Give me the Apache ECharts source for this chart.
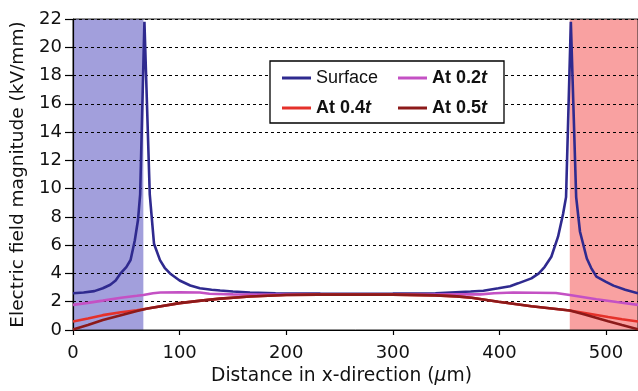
<!DOCTYPE html>
<html>
<head>
<meta charset="utf-8">
<script src="https://cdn.jsdelivr.net/npm/echarts@6/dist/echarts.min.js"></script>
<style>
  html, body { margin: 0; padding: 0; background: #fff; }
  #chart { width: 638px; height: 391px; }
</style>
</head>
<body>
<div id="chart"></div>
<script>
// electric field along x: [x (um), E (kV/mm)]
const surface = [
  [0, 2.6], [10, 2.65], [20, 2.75], [28, 2.95], [35, 3.2], [40, 3.5], [44, 3.95], [50, 4.45], [54, 4.95],
  [58, 6.35], [61, 7.8], [63, 9.6], [67, 21.8], [72, 9.6], [76, 6.1], [81.6, 4.94], [86, 4.4], [91, 4.0],
  [100, 3.5], [110, 3.15], [119, 2.95], [130, 2.85], [138, 2.79], [150, 2.72], [166, 2.65], [190, 2.6],
  [232, 2.57], [266, 2.56], [300, 2.57], [340, 2.6], [373, 2.72], [385, 2.78], [399, 2.95], [410, 3.1],
  [417.5, 3.3], [430, 3.65], [437, 4.0], [442.5, 4.47], [448.7, 5.18], [455, 6.6], [459.7, 8.2], [462.5, 9.4],
  [467, 21.8], [472, 9.4], [475.6, 6.95], [482, 5.06], [486, 4.4], [491, 3.77], [500, 3.4], [507, 3.14],
  [518, 2.85], [530, 2.6]
];
const at02 = [
  [0, 1.78], [14, 1.92], [28, 2.08], [45, 2.28], [60, 2.42], [66, 2.48], [75, 2.6], [82, 2.65], [100, 2.66],
  [119, 2.65], [128, 2.56], [150, 2.52], [200, 2.5], [266, 2.5], [330, 2.5], [360, 2.52], [382, 2.52],
  [395, 2.6], [413, 2.65], [453, 2.62], [466, 2.48], [491, 2.18], [510, 1.98], [530, 1.78]
];
const at04 = [
  [0, 0.6], [14, 0.82], [28, 1.05], [45, 1.25], [60, 1.4], [70, 1.52], [100, 1.9], [120, 2.08], [138, 2.22],
  [166, 2.37], [200, 2.48], [230, 2.5], [300, 2.5], [340, 2.45], [360, 2.38], [374, 2.28], [399, 2.0],
  [430, 1.68], [466, 1.38], [480, 1.2], [502, 0.92], [515, 0.76], [530, 0.6]
];
const at05 = [
  [0, 0.03], [14, 0.35], [28, 0.7], [45, 1.05], [60, 1.35], [70, 1.52], [100, 1.9], [120, 2.08], [138, 2.22],
  [166, 2.37], [200, 2.48], [230, 2.5], [300, 2.5], [340, 2.45], [360, 2.38], [374, 2.28], [399, 2.0],
  [430, 1.68], [466, 1.38], [480, 1.1], [502, 0.62], [515, 0.35], [530, 0.05]
];
// electrode regions (um)
const leftElectrode = [0, 66];
const rightElectrode = [466, 530];

const xTicks = { min: 0, max: 530, step: 100 };
const yTicks = { min: 0, max: 22, step: 2 };

const colors = {
  surface: "#2f2a8f",
  at02: "#c451c4",
  at04: "#e5312a",
  at05: "#8c1a1a",
  leftBand: "#a29fdc",
  rightBand: "#f9a1a1",
  ink: "#111111"
};

const axisFont = "'DejaVu Sans', sans-serif";
const legendFont = "'Liberation Sans', Arial, sans-serif";

const lineSeries = (name, data, color) => ({
  name,
  type: "line",
  data,
  symbol: "none",
  z: 3,
  lineStyle: { color, width: 2.6 },
  itemStyle: { color }
});

const legendRich = {
  n: { fontFamily: legendFont, fontSize: 18, color: colors.ink },
  b: { fontFamily: legendFont, fontSize: 18, fontWeight: "bold", color: colors.ink },
  i: { fontFamily: legendFont, fontSize: 18, fontWeight: "bold", fontStyle: "italic", color: colors.ink }
};
const legendLabel = name => {
  if (name === "Surface") return "{n|Surface}";
  const m = name.match(/^(.*)t$/);
  return `{b|${m[1]}}{i|t}`;
};
const legendAt = (name, left, top) => ({
  data: [name],
  left,
  top,
  padding: 0,
  icon: "rect",
  itemWidth: 29,
  itemHeight: 3,
  itemGap: 0,
  z: 6,
  selectedMode: false,
  formatter: legendLabel,
  textStyle: { rich: legendRich, padding: [0, 0, 0, 0] }
});

const chart = echarts.init(document.getElementById("chart"), null, { renderer: "canvas" });
chart.setOption({
  animation: false,
  grid: { left: 73, right: 0, top: 19, bottom: 59, show: true, borderColor: "#222", borderWidth: 1, z: 2 },
  graphic: [
    {
      type: "rect",
      z: 5,
      shape: { x: 270, y: 61, width: 234, height: 62 },
      style: { fill: "#fff", stroke: "#000", lineWidth: 1.3 }
    }
  ],
  legend: [
    legendAt("Surface", 282, 69),
    legendAt("At 0.2t", 398, 69),
    legendAt("At 0.4t", 282, 99),
    legendAt("At 0.5t", 398, 99)
  ],
  xAxis: {
    type: "value",
    min: xTicks.min,
    max: xTicks.max,
    interval: xTicks.step,
    z: 2,
    name: "{a|Distance in x-direction (}{m|μ}{a|m)}",
    nameLocation: "middle",
    nameGap: 37,
    nameTextStyle: {
      padding: [0, 28, 0, 0],
      rich: {
        a: { fontFamily: axisFont, fontSize: 18.7, color: colors.ink },
        m: { fontFamily: axisFont, fontSize: 18.7, fontStyle: "italic", color: colors.ink }
      }
    },
    axisLine: { show: true, lineStyle: { color: "#000", width: 1.2 } },
    axisTick: { show: true, length: 5, lineStyle: { color: "#000", width: 1.2 } },
    axisLabel: { fontFamily: axisFont, fontSize: 18, color: colors.ink, margin: 14 },
    splitLine: { show: false }
  },
  yAxis: {
    type: "value",
    min: yTicks.min,
    max: yTicks.max,
    interval: yTicks.step,
    z: 2,
    name: "Electric field magnitude (kV/mm)",
    nameLocation: "middle",
    nameGap: 45,
    nameTextStyle: { fontFamily: axisFont, fontSize: 18.5, color: colors.ink },
    axisLine: { show: true, lineStyle: { color: "#000", width: 1.2 } },
    axisTick: { show: true, length: 8, lineStyle: { color: "#000", width: 1.2 } },
    axisLabel: { fontFamily: axisFont, fontSize: 18, color: colors.ink, margin: 11 },
    splitLine: { show: true, lineStyle: { color: "#000", type: [3, 3], width: 1 } }
  },
  series: [
    {
      name: "bands",
      type: "line",
      data: [],
      z: 1,
      silent: true,
      markArea: {
        silent: true,
        data: [
          [{ xAxis: leftElectrode[0], itemStyle: { color: colors.leftBand } }, { xAxis: leftElectrode[1] }],
          [{ xAxis: rightElectrode[0], itemStyle: { color: colors.rightBand } }, { xAxis: rightElectrode[1] }]
        ]
      }
    },
    lineSeries("Surface", surface, colors.surface),
    lineSeries("At 0.2t", at02, colors.at02),
    lineSeries("At 0.4t", at04, colors.at04),
    lineSeries("At 0.5t", at05, colors.at05)
  ]
});
</script>
</body>
</html>
